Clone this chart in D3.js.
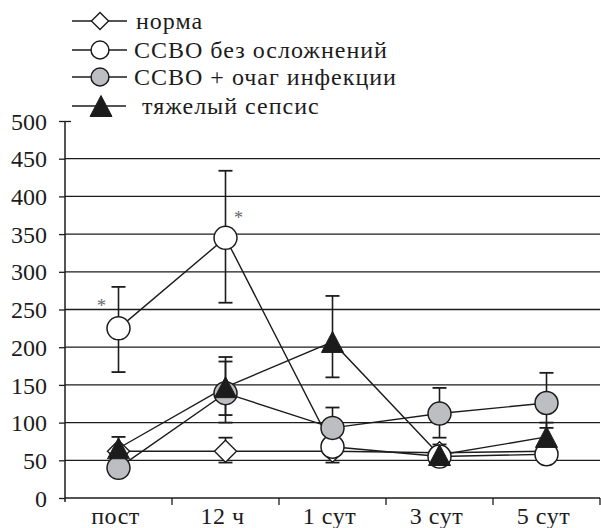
<!DOCTYPE html>
<html><head><meta charset="utf-8">
<script src="https://cdn.jsdelivr.net/npm/d3@7"></script>
<style>body{margin:0;background:#fff}svg{display:block}</style>
</head><body>
<script>
const categories = ["пост","12 ч","1 сут","3 сут","5 сут"];
const yTicks = [0,50,100,150,200,250,300,350,400,450,500];

const norma = [62, 62, 62, 60, 62];
const normaHi = [null, 80, null, null, null];
const normaLo = [null, 47, null, null, null];

const ssvo = [225, 345, 68, 55, 58];
const ssvoHi = [280, 434, null, null, null];
const ssvoLo = [167, 259, 47, null, null];

const infect = [40, 139, 93, 112, 126];
const infectHi = [null, 181, 120, 146, 166];
const infectLo = [null, 100, null, 80, 93];

const sepsis = [66, 147, 207, 57, 81];
const sepsisHi = [81, 187, 268, 71, 100];
const sepsisLo = [null, 110, 160, null, null];

const legendLabels = ["норма","ССВО без осложнений","ССВО + очаг инфекции","тяжелый сепсис"];
const asteriskIdx = [0, 1];

const W = 601, H = 528;
const svg = d3.select("body").append("svg").attr("width", W).attr("height", H);
const ink = "#1c1c1c";
const grayFill = "#bdbec1";
const FONT = "'Liberation Serif'";

const x = d3.scaleBand().domain(categories).range([65, 600]).padding(0);
const y = d3.scaleLinear().domain([0, 500]).range([498, 121]);
const cx = d => x(d) + x.bandwidth()/2;

// grid
svg.append("g").selectAll("line").data(yTicks.filter(t => t > 0 && t < 500)).join("line")
  .attr("x1", 65).attr("x2", 600).attr("y1", d => y(d)).attr("y2", d => y(d))
  .attr("stroke", ink).attr("stroke-width", 1.3);

// y axis
const yAxis = d3.axisLeft(y).tickValues(yTicks).tickSize(6).tickPadding(12).tickFormat(d3.format("d"));
const gy = svg.append("g").attr("transform", "translate(65,0)").call(yAxis);
gy.select(".domain").attr("d", `M0,${y(500)}V${y(0)+4}`).attr("stroke", ink).attr("stroke-width", 1.5);
gy.selectAll(".tick line").attr("stroke", ink).attr("stroke-width", 1.3);
gy.selectAll(".tick").filter(d => d === 500).select("line").attr("x2", 6).attr("x1", -6);
gy.selectAll(".tick text").attr("dy", "0.34em").style("font-family", FONT).style("font-size", "24px").attr("fill", ink);

// x axis
const xAxis = d3.axisBottom(x).tickSize(0).tickPadding(0);
const gx = svg.append("g").attr("transform", `translate(0,${y(0)})`).call(xAxis);
gx.select(".domain").attr("stroke", ink).attr("stroke-width", 1.5).attr("d", "M65,0H600");
gx.selectAll(".tick text").attr("y", 26).attr("dy", 0).attr("dx", -3)
  .style("font-family", FONT).style("font-size", "24px").style("letter-spacing", "0.5px").attr("fill", ink);
svg.append("g").selectAll("line").data(categories).join("line")
  .attr("x1", d => x(d) + x.bandwidth()).attr("x2", d => x(d) + x.bandwidth())
  .attr("y1", y(0)).attr("y2", y(0) + 7).attr("stroke", ink).attr("stroke-width", 1.3);

const series = [
  {vals: norma, hi: normaHi, lo: normaLo, type: "diamond"},
  {vals: ssvo, hi: ssvoHi, lo: ssvoLo, type: "white"},
  {vals: infect, hi: infectHi, lo: infectLo, type: "gray"},
  {vals: sepsis, hi: sepsisHi, lo: sepsisLo, type: "tri"}
];

const line = d3.line().x((d, i) => cx(categories[i])).y(d => y(d));
series.forEach(s => {
  svg.append("path").attr("d", line(s.vals)).attr("fill", "none").attr("stroke", ink).attr("stroke-width", 1.4);
});
const cap = 7;
series.forEach(s => {
  s.vals.forEach((v, i) => {
    const px = cx(categories[i]);
    const hi = s.hi[i], lo = s.lo[i];
    const top = hi != null ? hi : v, bot = lo != null ? lo : v;
    if (hi == null && lo == null) return;
    svg.append("line").attr("x1", px).attr("x2", px).attr("y1", y(top)).attr("y2", y(bot))
      .attr("stroke", ink).attr("stroke-width", 1.6);
    [hi, lo].forEach(e => {
      if (e == null) return;
      svg.append("line").attr("x1", px - cap).attr("x2", px + cap).attr("y1", y(e)).attr("y2", y(e))
        .attr("stroke", ink).attr("stroke-width", 1.8);
    });
  });
});

function marker(g, type, px, py, scale) {
  const k = scale || 1;
  if (type === "diamond") {
    const h = 11 * k;
    g.append("path").attr("d", `M${px},${py-h}L${px+h},${py}L${px},${py+h}L${px-h},${py}Z`)
      .attr("fill", "#fff").attr("stroke", ink).attr("stroke-width", 1.4);
  } else if (type === "white" || type === "gray") {
    g.append("circle").attr("cx", px).attr("cy", py).attr("r", 11.5 * k)
      .attr("fill", type === "white" ? "#fff" : grayFill).attr("stroke", ink).attr("stroke-width", 1.5);
  } else {
    const w = 11 * k, h = 10.5 * k;
    g.append("path").attr("d", `M${px},${py-h}L${px+w},${py+h}L${px-w},${py+h}Z`)
      .attr("fill", ink).attr("stroke", ink).attr("stroke-width", 1);
  }
}
series.forEach(s => {
  const g = svg.append("g");
  s.vals.forEach((v, i) => marker(g, s.type, cx(categories[i]), y(v)));
});

const astOff = [[-17, -25], [13, -23]];
asteriskIdx.forEach((i, j) => {
  svg.append("text").attr("x", cx(categories[i]) + astOff[j][0]).attr("y", y(ssvo[i]) + astOff[j][1] + 9)
    .attr("text-anchor", "middle").style("font-family", FONT).style("font-size", "18px").attr("fill", "#666").text("*");
});

const legY = [21, 50, 77, 106];
const legX = [136, 134, 134, 142];
const legend = svg.append("g");
legendLabels.forEach((lab, i) => {
  const ly = legY[i];
  legend.append("line").attr("x1", 72).attr("x2", i === 3 ? 126 : 127).attr("y1", ly).attr("y2", ly)
    .attr("stroke", ink).attr("stroke-width", 1.5);
  marker(legend, series[i].type, i === 3 ? 101 : 100, ly, i === 3 ? 1 : 0.78);
  legend.append("text").attr("x", legX[i]).attr("y", ly + 8)
    .style("font-family", FONT).style("font-size", "24px").style("letter-spacing", "1px").attr("fill", ink).text(lab);
});
</script>
</body></html>
